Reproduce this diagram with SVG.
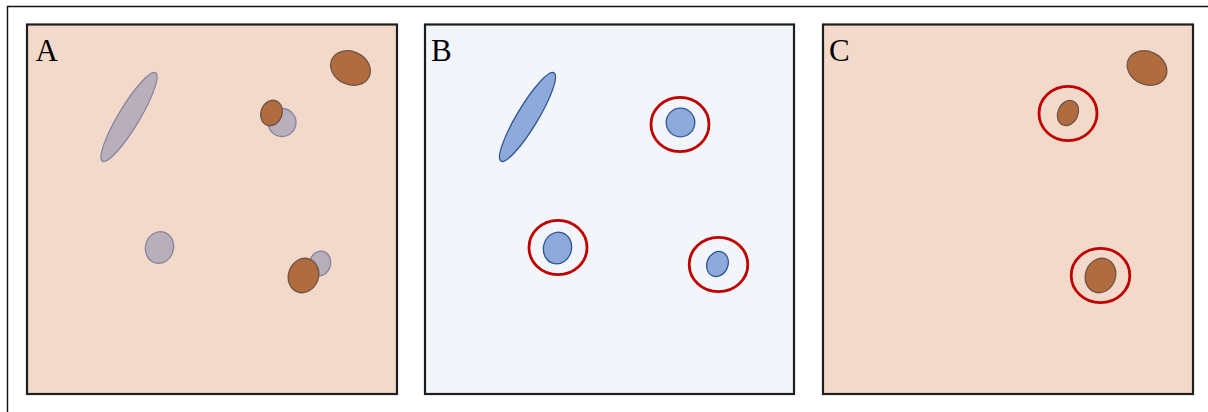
<svg xmlns="http://www.w3.org/2000/svg" width="1208" height="412" viewBox="0 0 1208 412">
<style>
.panel{stroke:#1e1e1e;stroke-width:2.2}
.peach{fill:#f3d9ca}
.blue-bg{fill:#f2f5fa}
.gray{fill:#b9afbb;stroke:#8784a0;stroke-width:1.3}
.brown{fill:#b06c3e;stroke:#6f5446;stroke-width:1.3}
.blue{fill:#8eaadb;stroke:#2f5592;stroke-width:1.3}
.ring{fill:none;stroke:#c00000;stroke-width:2.8}
.lbl{font-family:"Liberation Serif","Times New Roman",serif;font-size:31px;fill:#000}
</style>
<rect x="0" y="0" width="1208" height="412" fill="#ffffff"/>
<path d="M7.5,412 V6.5 H1208" fill="none" stroke="#111" stroke-width="1.4"/>

<g id="panelA">
<rect class="panel peach" x="27" y="24.5" width="370" height="369.5"/>
<text class="lbl" x="35.5" y="61">A</text>
<ellipse class="gray" cx="129" cy="117" rx="51.5" ry="10.5" transform="rotate(-59 129 117)"/>
<ellipse class="brown" cx="350.5" cy="68" rx="20.5" ry="16.5" transform="rotate(25 350.5 68)"/>
<circle class="gray" cx="282" cy="122.5" r="14"/>
<ellipse class="brown" cx="271.5" cy="113" rx="10.5" ry="13" transform="rotate(20 271.5 113)"/>
<ellipse class="gray" cx="159.5" cy="247.5" rx="14" ry="16" transform="rotate(15 159.5 247.5)"/>
<ellipse class="gray" cx="320" cy="263.5" rx="10.5" ry="12.5" transform="rotate(15 320 263.5)"/>
<ellipse class="brown" cx="303.5" cy="275.5" rx="15" ry="17.5" transform="rotate(20 303.5 275.5)"/>
</g>

<g id="panelB">
<rect class="panel blue-bg" x="425" y="24.5" width="369" height="369.5"/>
<text class="lbl" x="431" y="61">B</text>
<ellipse class="blue" cx="527.5" cy="117" rx="51.5" ry="10.5" transform="rotate(-59 527.5 117)"/>
<circle class="blue" cx="680.5" cy="122.5" r="14.3"/>
<ellipse class="ring" cx="680" cy="124.5" rx="29" ry="27.2"/>
<ellipse class="blue" cx="557.5" cy="248" rx="14" ry="16" transform="rotate(15 557.5 248)"/>
<ellipse class="ring" cx="558" cy="247.5" rx="29" ry="27.2"/>
<ellipse class="blue" cx="717.5" cy="264" rx="10.5" ry="12.8" transform="rotate(22 717.5 264)"/>
<ellipse class="ring" cx="718.5" cy="264.5" rx="29.3" ry="27.2"/>
</g>

<g id="panelC">
<rect class="panel peach" x="823" y="24.5" width="370" height="369.5"/>
<text class="lbl" x="829" y="61">C</text>
<ellipse class="brown" cx="1147" cy="68" rx="20.5" ry="16.5" transform="rotate(25 1147 68)"/>
<ellipse class="brown" cx="1068" cy="113" rx="10" ry="13" transform="rotate(25 1068 113)"/>
<ellipse class="ring" cx="1068" cy="113.5" rx="29" ry="27.2"/>
<ellipse class="brown" cx="1100.5" cy="275.5" rx="15" ry="17.5" transform="rotate(20 1100.5 275.5)"/>
<ellipse class="ring" cx="1100.5" cy="275.5" rx="29.3" ry="27.2"/>
</g>

<g id="connectors"></g>
</svg>
